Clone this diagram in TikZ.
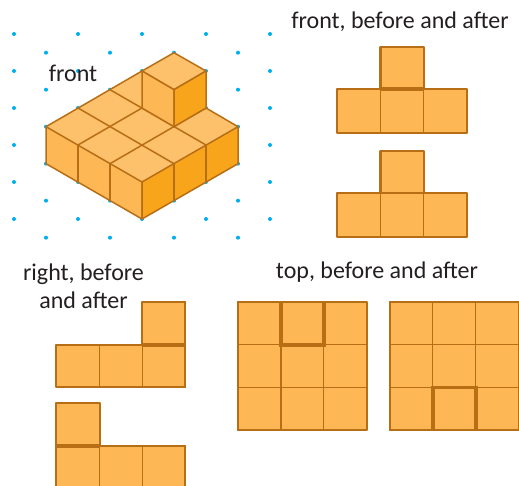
\documentclass[tikz,border=0pt]{standalone}
\usepackage{fontspec}
\setmainfont{Carlito}
\definecolor{edgeC}{HTML}{B86E14}
\definecolor{topC}{HTML}{FDC16B}
\definecolor{leftC}{HTML}{FDB855}
\definecolor{rightC}{HTML}{F9A51C}
\definecolor{dotC}{HTML}{00AEEF}
\definecolor{textC}{HTML}{231F20}
\tikzset{
  dotmark/.style={fill=dotC,draw=none},
  face/.style={draw=edgeC,line width=1.5pt,line join=round},
  cell/.style={fill=leftC,draw=edgeC,line width=1.4pt},
  outline/.style={draw=edgeC,line width=2.3pt,line join=round,line cap=round},
  heavy/.style={draw=edgeC,line width=3.6pt,line join=miter},
  label/.style={anchor=base,inner sep=0pt,text=textC,font=\fontsize{24}{24}\selectfont}
}
\begin{document}
\begin{tikzpicture}[x=1pt,y=-1pt]
\useasboundingbox (0,0) rectangle (519,486);
\clip (0,0) rectangle (519,486);
% dots
\foreach \c in {0,...,8}{
  \pgfmathsetmacro{\dx}{14+32*\c}
  \pgfmathsetmacro{\dy}{isodd(\c)?52.7:34}
  \foreach \r in {0,...,5}{
    \fill[dotmark] (\dx,\dy+37*\r) circle (2);
  }
}
% isometric solid: top surface
\coordinate (L) at (46,126.7);
\coordinate (B) at (142,71);
\coordinate (R) at (238,126.7);
\coordinate (F) at (142,182);
\coordinate (Fb) at (142,219);
\coordinate (Lb) at (46,163.7);
\coordinate (Rb) at (238,163.7);
\fill[topC] (L) -- (B) -- (142,108) -- (174,126.7) -- (206,108) -- (R) -- (F) -- cycle;
\draw[face] (78,108) -- (174,163.7);
\draw[face] (110,89.7) -- (206,145);
\draw[face] (78,145) -- (142,108);
\draw[face] (110,163.7) -- (206,108);
\draw[face] (L) -- (B);
\draw[face] (206,108) -- (R);
% sides
\draw[face,fill=leftC] (L) -- (F) -- (Fb) -- (Lb) -- cycle;
\draw[face,fill=rightC] (F) -- (R) -- (Rb) -- (Fb) -- cycle;
\draw[face] (78,145) -- (78,182) (110,163.7) -- (110,200.7) (174,163.7) -- (174,200.7) (206,145) -- (206,182);
% upper cube
\draw[face,fill=topC] (142,71) -- (174,52.7) -- (206,71) -- (174,89.7) -- cycle;
\draw[face,fill=leftC] (142,71) -- (174,89.7) -- (174,126.7) -- (142,108) -- cycle;
\draw[face,fill=rightC] (174,89.7) -- (206,71) -- (206,108) -- (174,126.7) -- cycle;
% labels
\node[label] (lfront) at (73,82) {front};
\node[label] (lfrontba) at (400,29) {front, before and after};
\node[label] (lright1) at (83.5,280) {right, before};
\node[label] (lright2) at (83.5,308) {and after};
\node[label] (ltop) at (377,279) {top, before and after};
% front before
\draw[cell] (380.5,46.7) rectangle (423.7,89.3);
\draw[cell] (337.3,89.3) rectangle (380.5,132.7);
\draw[cell] (380.5,89.3) rectangle (423.7,132.7);
\draw[cell] (423.7,89.3) rectangle (466.7,132.7);
\draw[outline] (380.5,89.3) |- (423.7,46.7) -- (423.7,89.3);
\draw[outline] (380.5,89.3) -| (337.3,132.7) -- (466.7,132.7) |- (423.7,89.3);
\draw[heavy] (380.5,89.3) -- (423.7,89.3);
% front after
\draw[cell] (380.5,150.7) rectangle (423.7,193);
\draw[cell] (337.3,193) rectangle (380.5,237);
\draw[cell] (380.5,193) rectangle (423.7,237);
\draw[cell] (423.7,193) rectangle (466.7,237);
\draw[outline] (380.5,193) |- (423.7,150.7) -- (423.7,193);
\draw[outline] (380.5,193) -| (337.3,237) -- (466.7,237) |- (423.7,193);
% right before
\draw[cell] (142.3,301.7) rectangle (185.3,344.7);
\draw[cell] (56.3,344.7) rectangle (99.7,387.3);
\draw[cell] (99.7,344.7) rectangle (142.3,387.3);
\draw[cell] (142.3,344.7) rectangle (185.3,387.3);
\draw[outline] (142.3,344.7) |- (185.3,301.7) -- (185.3,387.3) -- (56.3,387.3) |- (142.3,344.7);
\draw[heavy] (142.3,344.7) -- (185.3,344.7);
% right after
\draw[cell] (56.3,403.3) rectangle (99.7,445.7);
\draw[cell] (56.3,445.7) rectangle (99.7,489);
\draw[cell] (99.7,445.7) rectangle (142.3,489);
\draw[cell] (142.3,445.7) rectangle (185.3,489);
\draw[outline] (56.3,489) |- (99.7,403.3) -- (99.7,445.7) -| (185.3,489);
\draw[heavy] (56.3,445.7) -- (99.7,445.7);
% top before
\foreach \x/\xx in {237.7/281,281/323.7,323.7/366.7}
  \foreach \y/\yy in {301.7/344.7,344.7/387.3,387.3/430.3}
    \draw[cell] (\x,\y) rectangle (\xx,\yy);
\draw[outline] (237.7,301.7) rectangle (366.7,430.3);
\draw[heavy] (281,301.7) -- (281,344.7) -- (323.7,344.7) -- (323.7,301.7);
% top after
\foreach \x/\xx in {389.7/432.7,432.7/475.7,475.7/518.7}
  \foreach \y/\yy in {301.7/344.7,344.7/387.3,387.3/430.3}
    \draw[cell] (\x,\y) rectangle (\xx,\yy);
\draw[outline] (389.7,301.7) rectangle (518.7,430.3);
\draw[heavy] (432.7,430.3) -- (432.7,387.3) -- (475.7,387.3) -- (475.7,430.3);
\end{tikzpicture}
\end{document}
